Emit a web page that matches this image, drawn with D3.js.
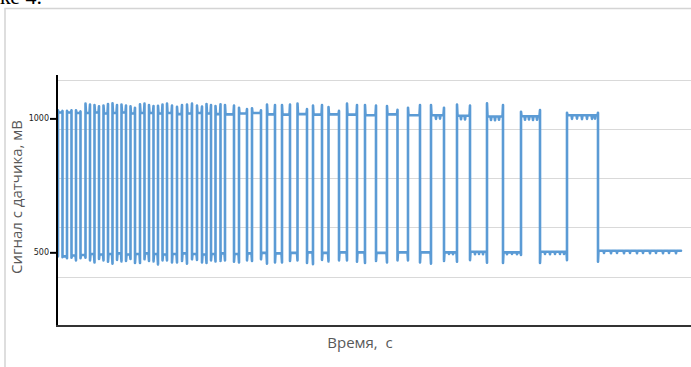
<!DOCTYPE html>
<html>
<head>
<meta charset="utf-8">
<script src="https://cdn.jsdelivr.net/npm/d3@7/dist/d3.min.js"></script>
<style>
  html, body { margin: 0; padding: 0; background: #fff; }
  svg { display: block; }
</style>
</head>
<body>
<svg id="chart" width="691" height="367"></svg>
<script>
// Sensor signal (mV) over time (s): square pulses whose period grows with time.
// Each pulse: rise time, fall time, spike tips at both edges and the plateau level.
const riseTimes = [0.1, 1.0, 1.9, 2.85, 3.75, 4.65, 5.55, 6.45, 7.35, 8.3, 9.2, 10.1,
  11.0, 12.0, 13.0, 14.0, 14.95, 15.85, 16.8, 18.2, 19.5, 21.0, 22.5, 24.05, 25.6,
  27.15, 29.0, 30.8, 33.0, 35.1, 37.4, 40.0, 43.0, 46.4, 51.0];
const fallTimes = [0.55, 1.45, 2.35, 3.3, 4.2, 5.1, 6.0, 6.9, 7.8, 8.75, 9.65, 10.55,
  11.5, 12.5, 13.5, 14.5, 15.4, 16.35, 17.7, 19.0, 20.4, 21.8, 23.3, 25.0, 26.5,
  28.2, 30.0, 31.9, 34.05, 36.3, 38.7, 41.3, 44.6, 48.3, 54.1];
const endTime = 62.4;

// High plateaus
const highStartTips = [1030, 1028, 1030, 1055, 1050, 1048, 1056, 1052, 1045, 1053, 1050,
  1047, 1055, 1043, 1052, 1048, 1054, 1046, 1050, 1040, 1038, 1052, 1050, 1055, 1048,
  1042, 1055, 1050, 1046, 1040, 1050, 1052, 1056, 1025, 1021];
const highEndTips = [1028, 1030, 1026, 1052, 1045, 1054, 1050, 1048, 1040, 1055, 1046,
  1052, 1048, 1050, 1055, 1044, 1050, 1053, 1048, 1035, 1030, 1050, 1052, 1035, 1050,
  1028, 1050, 1048, 1032, 1050, 1040, 1048, 1050, 1031, 1021];
const highLevels = [1022, 1022, 1020, 1020, 1022, 1018, 1020, 1022, 1018, 1020, 1020,
  1018, 1020, 1016, 1018, 1020, 1018, 1016, 1015, 1018, 1020, 1015, 1014, 1016, 1014,
  1015, 1014, 1012, 1015, 1012, 1012, 1010, 1007, 1008, 1012];

// Low plateaus: tip right before each rise, tip right after each fall, plateau level
const lowEndTips = [485, 478, 470, 480, 462, 470, 458, 466, 475, 460, 468, 455, 470,
  462, 458, 472, 460, 466, 470, 462, 468, 458, 462, 470, 456, 466, 470, 460, 462, 470,
  458, 465, 461, 490, 471];
const lowStartTips = [482, 480, 478, 470, 475, 465, 472, 468, 460, 474, 466, 470, 462,
  468, 474, 462, 470, 468, 465, 470, 474, 462, 468, 460, 472, 470, 465, 468, 470, 462,
  468, 471, 460, 460, 465];
const lowLevels = [485, 488, 490, 494, 492, 494, 496, 492, 494, 496, 494, 492, 494, 496,
  494, 492, 494, 496, 494, 496, 498, 496, 498, 500, 498, 500, 500, 498, 500, 500, 500,
  502, 500, 502, 506];

// Short ripple dips on the longer plateaus
const dipTimes = [37.9, 38.3, 39.2, 39.6, 40.4, 40.8, 41.8, 42.2, 42.6, 43.4, 43.8, 44.2,
  45.0, 45.5, 46.0, 46.8, 47.2, 47.6, 48.0, 48.8, 49.3, 49.8, 50.3, 50.7, 51.5, 52.0,
  52.5, 53.0, 53.5, 53.8, 54.7, 55.4, 56.0, 56.7, 57.3, 58.0, 58.6, 59.3, 59.9, 60.6,
  61.2, 61.9];
const dipValues = [998, 999, 494, 493, 997, 996, 493, 494, 493, 994, 993, 995, 493, 494,
  493, 995, 996, 994, 995, 494, 493, 494, 494, 494, 998, 999, 997, 998, 998, 999, 498,
  497, 498, 497, 498, 497, 498, 497, 498, 497, 498, 497];

// Axis ticks and gridlines (mV)
const yTickValues = [500, 1000];
const yTickLabels = ["500", "1000"];
const gridValues = [1145, 961, 777, 593, 409];

const svg = d3.select("#chart");

const x = d3.scaleLinear().domain([0, 63.4]).range([57, 691]);
const y = d3.scaleLinear().domain([225, 1162]).range([326, 75]);

// Caption fragment of the surrounding text
svg.append("text")
  .attr("x", 0).attr("y", 4)
  .attr("font-family", "Liberation Serif, serif")
  .attr("font-size", 22)
  .attr("fill", "#000")
  .text("ке 4.");

// Chart frame
svg.append("rect")
  .attr("x", 5).attr("y", 8.5)
  .attr("width", 720).attr("height", 400)
  .attr("fill", "none")
  .attr("stroke", "#d4d4d4")
  .attr("stroke-width", 1.5);

// Gridlines
svg.append("g")
  .selectAll("line")
  .data(gridValues)
  .join("line")
  .attr("x1", x(0)).attr("x2", 691)
  .attr("y1", d => Math.round(y(d)) + 0.5)
  .attr("y2", d => Math.round(y(d)) + 0.5)
  .attr("stroke", "#d9d9d9")
  .attr("stroke-width", 1);

// Signal path assembled from the pulse tables
const w = 0.05;
const pts = [];
const dips = dipTimes.map((t, i) => [t, dipValues[i]]);
function addDips(t0, t1, level) {
  dips.filter(d => d[0] > t0 && d[0] < t1).forEach(d => {
    pts.push([d[0] - w, level], [d[0], d[1]], [d[0] + w, level]);
  });
}
riseTimes.forEach((r, i) => {
  const f = fallTimes[i];
  if (i === 0) pts.push([r, lowEndTips[0]]);
  else pts.push([r - w, lowLevels[i - 1]], [r, lowEndTips[i]]);
  pts.push([r, highStartTips[i]], [r + w, highLevels[i]]);
  addDips(r, f, highLevels[i]);
  pts.push([f - w, highLevels[i]], [f, highEndTips[i]], [f, lowStartTips[i]], [f + w, lowLevels[i]]);
  const next = i < riseTimes.length - 1 ? riseTimes[i + 1] : endTime;
  addDips(f, next, lowLevels[i]);
  if (i === riseTimes.length - 1) pts.push([endTime, lowLevels[i]]);
});

svg.append("path")
  .datum(pts)
  .attr("fill", "none")
  .attr("stroke", "#5b9bd5")
  .attr("stroke-width", 2.6)
  .attr("stroke-linejoin", "round")
  .attr("stroke-linecap", "round")
  .attr("d", d3.line().x(d => x(d[0])).y(d => y(d[1])));

// Y axis
const yAxis = svg.append("g")
  .attr("transform", `translate(${x(0)},0)`)
  .call(d3.axisLeft(y).tickValues(yTickValues)
    .tickFormat((d, i) => yTickLabels[i]).tickSize(7).tickPadding(1));
yAxis.select(".domain").remove();
yAxis.selectAll(".tick line").attr("stroke", "#000").attr("stroke-width", 2);
yAxis.selectAll(".tick text")
  .attr("font-family", "DejaVu Sans, sans-serif")
  .attr("font-size", 8)
  .attr("fill", "#222");
svg.append("line")
  .attr("x1", x(0)).attr("x2", x(0))
  .attr("y1", 75).attr("y2", 327)
  .attr("stroke", "#000").attr("stroke-width", 2);

// X axis
svg.append("line")
  .attr("x1", x(0) - 1).attr("x2", 691)
  .attr("y1", 326).attr("y2", 326)
  .attr("stroke", "#333").attr("stroke-width", 2);

// Axis titles
svg.append("text")
  .attr("transform", "translate(22,197) rotate(-90)")
  .attr("text-anchor", "middle")
  .attr("font-family", "Open Sans, sans-serif")
  .attr("font-size", 15)
  .attr("fill", "#595959")
  .text("Сигнал с датчика, мВ");

svg.append("text")
  .attr("x", 360).attr("y", 348)
  .attr("text-anchor", "middle")
  .attr("font-family", "Open Sans, sans-serif")
  .attr("font-size", 15)
  .attr("fill", "#595959")
  .style("white-space", "pre")
  .text("Время,  с");
</script>
</body>
</html>
